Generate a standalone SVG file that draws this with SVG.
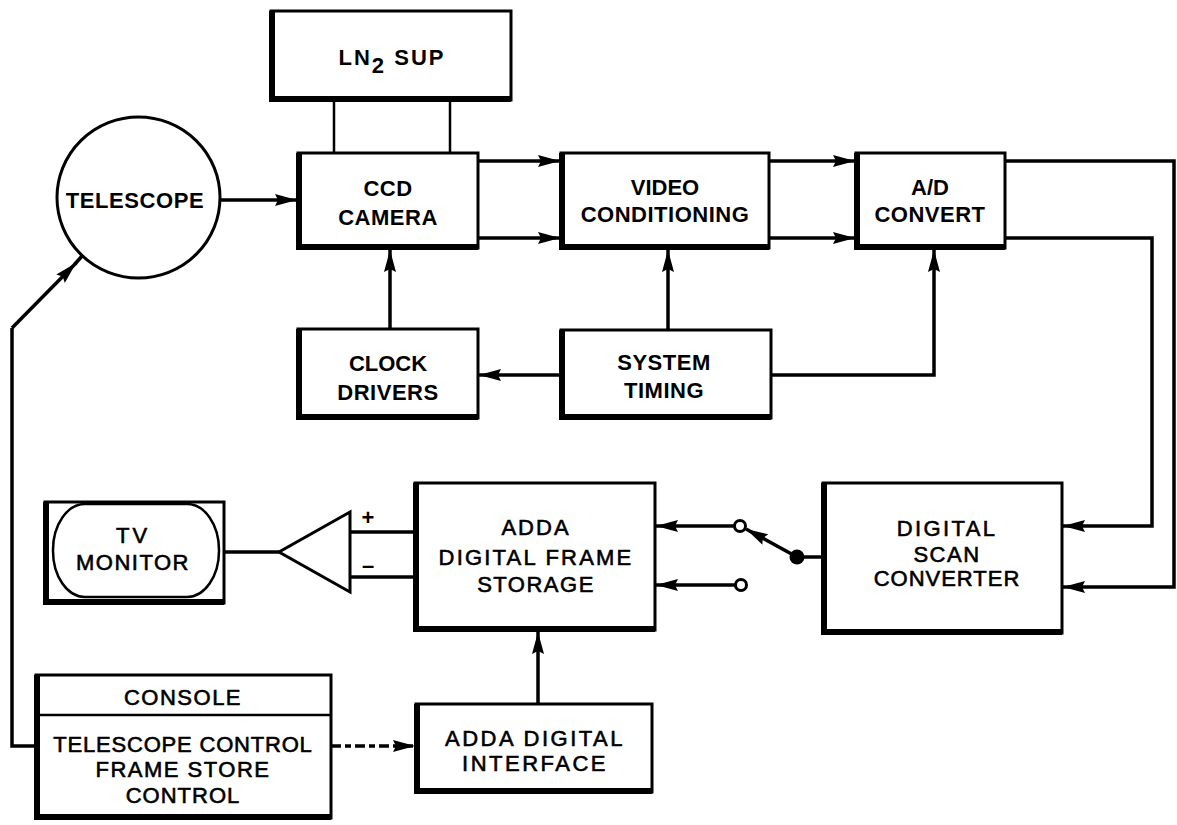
<svg xmlns="http://www.w3.org/2000/svg" width="1177" height="825" viewBox="0 0 1177 825">
<style>
.bg{fill:#fff}
.box{fill:#fff;stroke:#000;stroke-width:3}
.sh{fill:none;stroke:#000;stroke-width:6;stroke-linejoin:miter}
.ln{fill:none;stroke:#000;stroke-width:3.5}
.thin{fill:none;stroke:#000;stroke-width:2.5}
.b{font-family:"Liberation Sans",Arial,sans-serif;font-weight:bold;font-size:22px;fill:#000;text-anchor:middle}
.r{font-family:"Liberation Sans",Arial,sans-serif;font-weight:normal;font-size:22px;fill:#000;text-anchor:middle;stroke:#000;stroke-width:0.6}
</style>
<defs>
<marker id="ah" viewBox="0 0 22 12" refX="22" refY="6" markerWidth="22" markerHeight="12" markerUnits="userSpaceOnUse" orient="auto">
<path d="M0,0 L22,6 L0,12 L3,6 z" fill="#000"/>
</marker>
</defs>
<rect class="bg" x="0" y="0" width="1177" height="825"/>

<g id="connectors">
<line class="thin" x1="334" y1="100" x2="334" y2="153"/>
<line class="thin" x1="450" y1="100" x2="450" y2="153"/>
<line class="ln" x1="220" y1="200" x2="297" y2="200" marker-end="url(#ah)"/>
<line class="ln" x1="478" y1="161" x2="560" y2="161" marker-end="url(#ah)"/>
<line class="ln" x1="478" y1="238" x2="560" y2="238" marker-end="url(#ah)"/>
<line class="ln" x1="769" y1="161" x2="855" y2="161" marker-end="url(#ah)"/>
<line class="ln" x1="769" y1="238" x2="855" y2="238" marker-end="url(#ah)"/>
<line class="ln" x1="390" y1="329" x2="390" y2="250" marker-end="url(#ah)"/>
<line class="ln" x1="668" y1="330" x2="668" y2="250" marker-end="url(#ah)"/>
<line class="ln" x1="561" y1="375" x2="479" y2="375" marker-end="url(#ah)"/>
<polyline class="ln" points="771,375 934,375 934,250" marker-end="url(#ah)"/>
<polyline class="ln" points="1005,161 1174,161 1174,587 1063,587" marker-end="url(#ah)"/>
<polyline class="ln" points="1005,238 1152,238 1152,526 1063,526" marker-end="url(#ah)"/>
<line class="ln" x1="823" y1="557" x2="797" y2="557"/>
<circle cx="797" cy="557" r="7.5" fill="#000"/>
<line class="ln" x1="797" y1="557" x2="746" y2="529" marker-end="url(#ah)"/>
<circle cx="740" cy="526" r="5.5" fill="#fff" stroke="#000" stroke-width="3"/>
<circle cx="741" cy="585" r="5.5" fill="#fff" stroke="#000" stroke-width="3"/>
<line class="ln" x1="734" y1="526" x2="656" y2="526" marker-end="url(#ah)"/>
<line class="ln" x1="735" y1="585" x2="656" y2="585" marker-end="url(#ah)"/>
<line class="ln" x1="415" y1="532" x2="350" y2="532"/>
<line class="ln" x1="415" y1="577" x2="350" y2="577"/>
<line class="ln" x1="279" y1="552" x2="224" y2="552"/>
<line class="ln" x1="538" y1="704" x2="538" y2="632" marker-end="url(#ah)"/>
<line class="ln" x1="331" y1="746" x2="415" y2="746" stroke-dasharray="10 4 6 4" marker-end="url(#ah)"/>
<polyline class="ln" points="36,746 12,746 12,328"/>
<line class="ln" x1="12" y1="328" x2="76" y2="263" marker-end="url(#ah)"/>
<line class="ln" x1="75" y1="264" x2="82" y2="256"/>
</g>

<g id="ln2sup">
<rect class="box" x="271" y="11" width="240" height="89"/>
<path class="sh" d="M272,11 V99 H511"/>
<text class="b" x="392" y="65" letter-spacing="2">LN<tspan dy="8">2</tspan><tspan dy="-8"> SUP</tspan></text>
</g>

<g id="telescope">
<ellipse cx="138.5" cy="197.5" rx="81.5" ry="80.5" fill="#fff" stroke="#000" stroke-width="3"/>
<text class="b" x="135" y="208" letter-spacing="0.6">TELESCOPE</text>
</g>

<g id="ccd">
<rect class="box" x="298" y="153" width="180" height="95"/>
<path class="sh" d="M299,153 V247 H478"/>
<text class="b" x="388" y="196" letter-spacing="0.5">CCD</text>
<text class="b" x="388" y="225" letter-spacing="0.5">CAMERA</text>
</g>

<g id="video">
<rect class="box" x="561" y="153" width="208" height="95"/>
<path class="sh" d="M562,153 V247 H769"/>
<text class="b" x="665" y="195">VIDEO</text>
<text class="b" x="665" y="222" letter-spacing="0.5">CONDITIONING</text>
</g>

<g id="adconvert">
<rect class="box" x="856" y="153" width="149" height="95"/>
<path class="sh" d="M857,153 V247 H1005"/>
<text class="b" x="930" y="195">A/D</text>
<text class="b" x="930" y="222" letter-spacing="0.5">CONVERT</text>
</g>

<g id="clockdrivers">
<rect class="box" x="298" y="329" width="180" height="89"/>
<path class="sh" d="M299,329 V417 H478"/>
<text class="b" x="388" y="371">CLOCK</text>
<text class="b" x="388" y="400" letter-spacing="0.5">DRIVERS</text>
</g>

<g id="systemtiming">
<rect class="box" x="561" y="330" width="210" height="88"/>
<path class="sh" d="M562,330 V417 H771"/>
<text class="b" x="664" y="370" letter-spacing="0.5">SYSTEM</text>
<text class="b" x="664" y="398" letter-spacing="0.5">TIMING</text>
</g>

<g id="scanconverter">
<rect class="box" x="823" y="483" width="239" height="150"/>
<path class="sh" d="M824,483 V632 H1062"/>
<text class="r" x="947" y="536" letter-spacing="2.4">DIGITAL</text>
<text class="r" x="947" y="562" letter-spacing="1.5">SCAN</text>
<text class="r" x="947" y="586" letter-spacing="1">CONVERTER</text>
</g>

<g id="framestorage">
<rect class="box" x="415" y="483" width="240" height="147"/>
<path class="sh" d="M416,483 V629 H655"/>
<text class="r" x="536" y="535" letter-spacing="2">ADDA</text>
<text class="r" x="536" y="565" letter-spacing="2.2">DIGITAL FRAME</text>
<text class="r" x="536" y="592" letter-spacing="1.5">STORAGE</text>
</g>

<g id="amplifier">
<polygon points="350,512 350,592 279,552" fill="#fff" stroke="#000" stroke-width="3" stroke-linejoin="miter"/>
<text class="b" x="368" y="525" font-size="20">+</text>
<text class="b" x="368" y="573" font-size="22">–</text>
</g>

<g id="tvmonitor">
<rect class="box" x="45" y="502" width="179" height="101"/>
<path class="sh" d="M46,502 V602 H224"/>
<rect x="53" y="504" width="166" height="93" rx="32" ry="46" fill="#fff" stroke="#000" stroke-width="2.5"/>
<text class="r" x="133" y="543" font-size="21" letter-spacing="3">TV</text>
<text class="r" x="133" y="570" font-size="21" letter-spacing="1.5">MONITOR</text>
</g>

<g id="interface">
<rect class="box" x="416" y="704" width="236" height="88"/>
<path class="sh" d="M417,704 V791 H652"/>
<text class="r" x="535" y="746" letter-spacing="2.5">ADDA DIGITAL</text>
<text class="r" x="535" y="771" letter-spacing="2.5">INTERFACE</text>
</g>

<g id="console">
<rect class="box" x="36" y="675" width="295" height="143"/>
<path class="sh" d="M37,675 V817 H331"/>
<line x1="36" y1="715" x2="331" y2="715" stroke="#000" stroke-width="2.5"/>
<text class="r" x="183" y="705" letter-spacing="1.5">CONSOLE</text>
<text class="r" x="183" y="752" font-size="24" letter-spacing="0.8">TELESCOPE CONTROL</text>
<text class="r" x="183" y="777" font-size="24" letter-spacing="1.5">FRAME STORE</text>
<text class="r" x="183" y="803" font-size="24" letter-spacing="1">CONTROL</text>
</g>
</svg>
